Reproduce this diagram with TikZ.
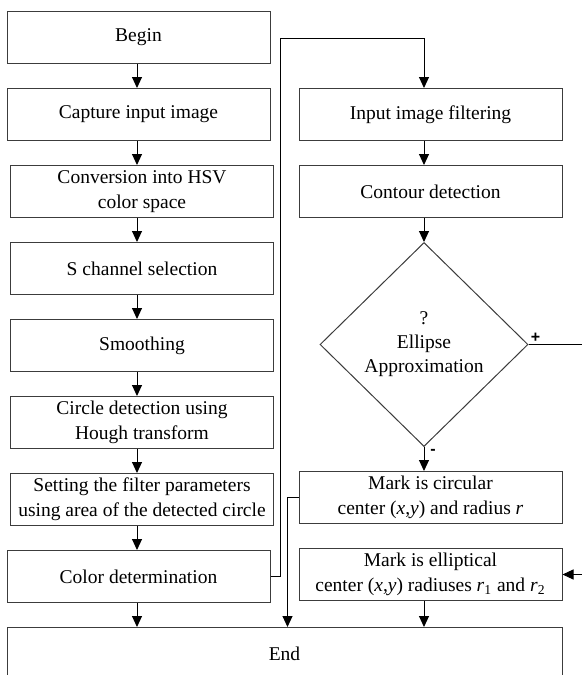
\documentclass[tikz,border=0pt]{standalone}
\usepackage{fontspec}
\setmainfont{Liberation Serif}
\newfontfamily\signfont{Liberation Sans}
\usetikzlibrary{arrows.meta,positioning,shapes.geometric}
\definecolor{boxline}{RGB}{60,60,60}

\begin{document}
\begin{tikzpicture}[x=0.5pt,y=-0.5pt,>={Triangle[length=5.5pt,width=5pt]},node distance=12pt]
\tikzstyle{stepbox}=[draw=boxline,line width=0.5pt,align=center,minimum width=131.5pt,minimum height=26pt,inner sep=1pt,font=\fontsize{9.75}{12.5}\selectfont]
\tikzstyle{decide}=[draw=boxline,line width=0.5pt,diamond,align=center,minimum width=104pt,minimum height=102pt,inner sep=0pt,font=\fontsize{9.75}{12}\selectfont]
\tikzstyle{sign}=[font=\signfont\bfseries\fontsize{8}{8}\selectfont,inner sep=1pt]
\tikzstyle{flow}=[->,line width=0.5pt,black]

\useasboundingbox (0,0) rectangle (582,675);
\clip (0,0) rectangle (582,675);

% left column
\node[stepbox] (begin) at (138.5,37.5) {Begin};
\node[stepbox,below=of begin] (capture) {Capture input image};
\node[stepbox,below=of capture,xshift=1.75pt] (hsv) {Conversion into HSV\\color space};
\node[stepbox,below=of hsv] (schan) {S channel selection};
\node[stepbox,below=of schan] (smooth) {Smoothing};
\node[stepbox,below=of smooth] (hough) {Circle detection using\\Hough transform};
\node[stepbox,below=of hough] (params) {Setting the filter parameters\\using area of the detected circle};
\node[stepbox,below=of params,xshift=-1.75pt] (color) {Color determination};
\node[stepbox,below=of color.south west,anchor=north west,minimum width=277.5pt] (finish) {End};

% right column
\node[stepbox] (filt) at (430.5,114.5) {Input image filtering};
\node[stepbox,below=of filt] (contour) {Contour detection};
\node[decide,below=of contour,xshift=-3.25pt] (ellq) {?\\Ellipse\\Approximation};
\node[stepbox,below=of ellq,xshift=3.25pt] (circ) {Mark is circular\\center (\textit{x},\textit{y}) and radius \textit{r}};
\node[stepbox,below=of circ] (ellip) {Mark is elliptical\\center (\textit{x},\textit{y}) radiuses \textit{r}\textsubscript{1} and \textit{r}\textsubscript{2}};

\node[sign,anchor=south west] (plus) at (ellq.east) {+};
\node[sign,anchor=north west,xshift=2pt] (minus) at (ellq.south) {-};

% arrows
\coordinate (lx) at (137,0);
\foreach \p/\q in {begin/capture,capture/hsv,hsv/schan,schan/smooth,smooth/hough,hough/params,params/color,color/finish}
  \draw[flow] (lx |- \p.south) -- (lx |- \q.north);

\coordinate (jump) at (280,38);
\draw[flow] (color.east) -| (jump) -| (ellq.north |- filt.north);
\draw[flow] (ellq.north |- filt.south) -- (ellq.north |- contour.north);
\draw[flow] (ellq.north |- contour.south) -- (ellq.north);
\draw[flow] (ellq.south) -- (ellq.south |- circ.north);
\draw[flow] (ellq.east) -- ++(60,0) |- (ellip.east);
\draw[flow] (circ.west) -- ++(-11,0) coordinate (cbend) -- (cbend |- finish.north);
\draw[flow] (ellq.south |- ellip.south) -- (ellq.south |- finish.north);
\end{tikzpicture}
\end{document}
